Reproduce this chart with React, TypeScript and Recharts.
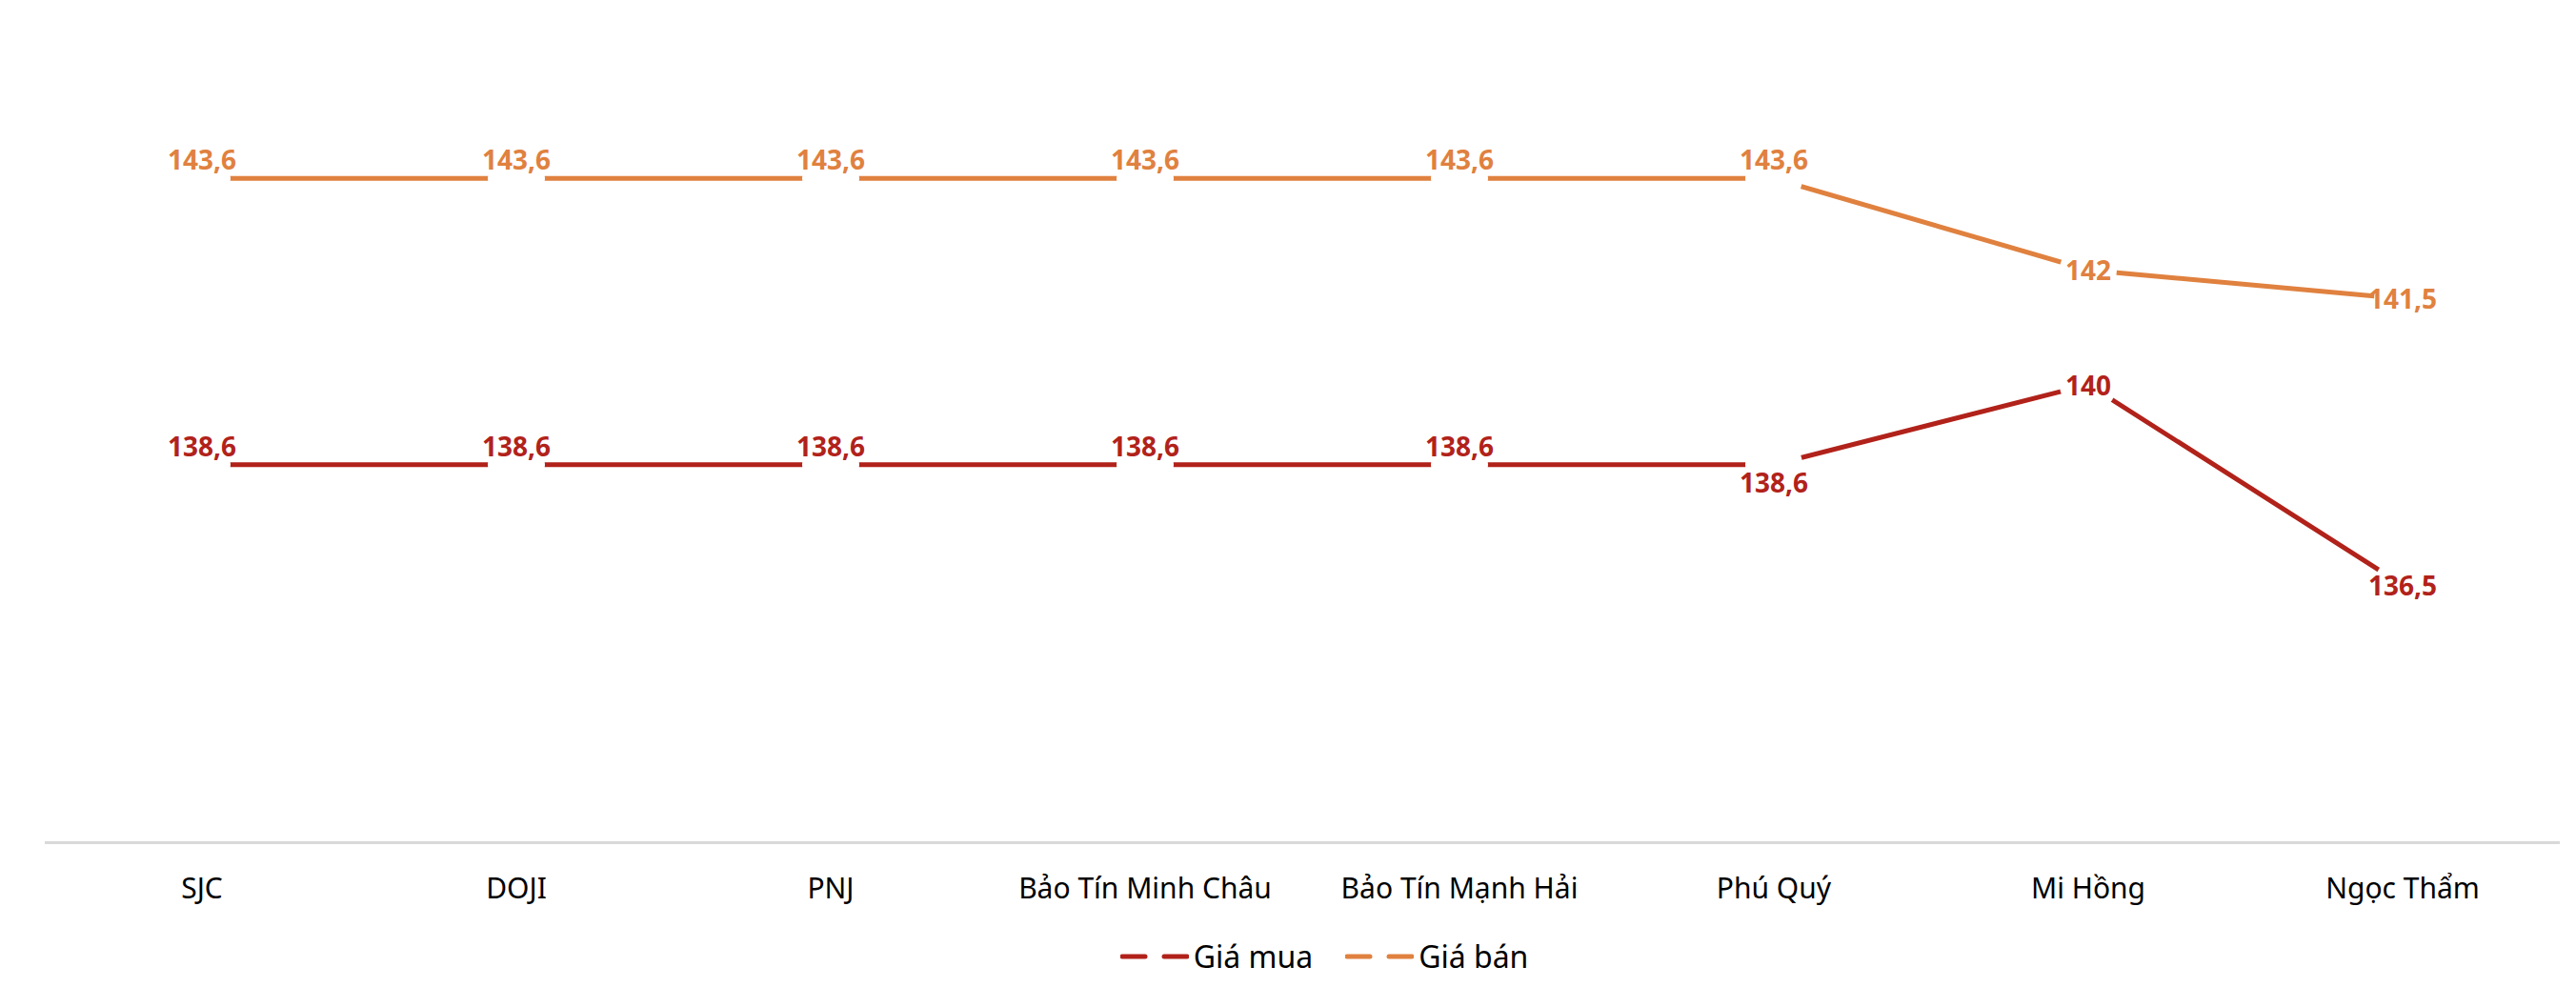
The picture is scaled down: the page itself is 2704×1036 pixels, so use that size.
import { LineChart, Line, XAxis, YAxis, Legend, LabelList } from "recharts";

// giá vàng theo thương hiệu (triệu đồng/lượng)
const categories = [
  "SJC",
  "DOJI",
  "PNJ",
  "Bảo Tín Minh Châu",
  "Bảo Tín Mạnh Hải",
  "Phú Quý",
  "Mi Hồng",
  "Ngọc Thẩm",
];
const giaMua = [138.6, 138.6, 138.6, 138.6, 138.6, 138.6, 140, 136.5];
const giaBan = [143.6, 143.6, 143.6, 143.6, 143.6, 143.6, 142, 141.5];

const seriesNames = ["Giá mua", "Giá bán"];
const RED = "#b1221a";
const ORANGE = "#e0813f";
const FONT = "'Noto Sans', 'Open Sans', sans-serif";

const data = categories.map((name, i) => ({
  name,
  mua: giaMua[i],
  ban: giaBan[i],
}));

const fmt = (v: any) => String(v).replace(".", ",");

function makeLabel(color: string, isMua: boolean) {
  return (props: any) => {
    const { x, y, value, index } = props;
    let dy = -20;
    if (index >= 6) dy = 0;
    else if (isMua && index === 5) dy = 18;
    return (
      <text
        x={x}
        y={y + dy}
        textAnchor="middle"
        dominantBaseline="central"
        fill={color}
        fontFamily={FONT}
        fontWeight={700}
        fontSize={28}
      >
        {fmt(value)}
      </text>
    );
  };
}

function CategoryTick(props: any) {
  const { x, y, payload } = props;
  return (
    <text
      x={x}
      y={y + 46.5}
      textAnchor="middle"
      dominantBaseline="central"
      fill="#000"
      fontFamily={FONT}
      fontSize={30}
    >
      {payload.value}
    </text>
  );
}

function LegendIcon({ color }: { color: string }) {
  return (
    <svg width={72} height={10} style={{ display: "block" }}>
      <line x1={2} y1={5} x2={26} y2={5} stroke={color} strokeWidth={5} strokeLinecap="round" />
      <line x1={46} y1={5} x2={70} y2={5} stroke={color} strokeWidth={5} strokeLinecap="round" />
    </svg>
  );
}

function renderLegend() {
  const colors = [RED, ORANGE];
  return (
    <div
      style={{
        display: "flex",
        justifyContent: "center",
        alignItems: "center",
        paddingLeft: 46,
        fontFamily: FONT,
        fontSize: 32,
        color: "#000",
        height: 24,
      }}
    >
      {seriesNames.map((n, i) => (
        <div
          key={n}
          style={{ display: "flex", alignItems: "center", marginRight: i === 0 ? 34 : 0 }}
        >
          <LegendIcon color={colors[i]} />
          <span style={{ marginLeft: 5, lineHeight: "24px" }}>{n}</span>
        </div>
      ))}
    </div>
  );
}

export default function App() {
  return (
    <div style={{ width: 2688, height: 1020, background: "#fff" }}>
      <LineChart
        width={2688}
        height={1020}
        data={data}
        margin={{ top: 35, right: 9, left: 39, bottom: 12 }}
      >
        <XAxis
          dataKey="name"
          padding={{ left: 165, right: 165 }}
          axisLine={{ stroke: "#d9d9d9", strokeWidth: 3 }}
          tickLine={false}
          tickSize={0}
          tickMargin={0}
          height={107.5}
          interval={0}
          tick={<CategoryTick />}
        />
        <YAxis hide domain={[132, 146]} />
        <Legend verticalAlign="bottom" height={24} content={renderLegend} />
        <Line
          dataKey="mua"
          name={seriesNames[0]}
          stroke={RED}
          strokeWidth={5}
          dot={{ r: 30, fill: "#fff", stroke: "none" }}
          activeDot={false}
          isAnimationActive={false}
        >
          <LabelList dataKey="mua" content={makeLabel(RED, true)} />
        </Line>
        <Line
          dataKey="ban"
          name={seriesNames[1]}
          stroke={ORANGE}
          strokeWidth={5}
          dot={{ r: 30, fill: "#fff", stroke: "none" }}
          activeDot={false}
          isAnimationActive={false}
        >
          <LabelList dataKey="ban" content={makeLabel(ORANGE, false)} />
        </Line>
      </LineChart>
    </div>
  );
}
